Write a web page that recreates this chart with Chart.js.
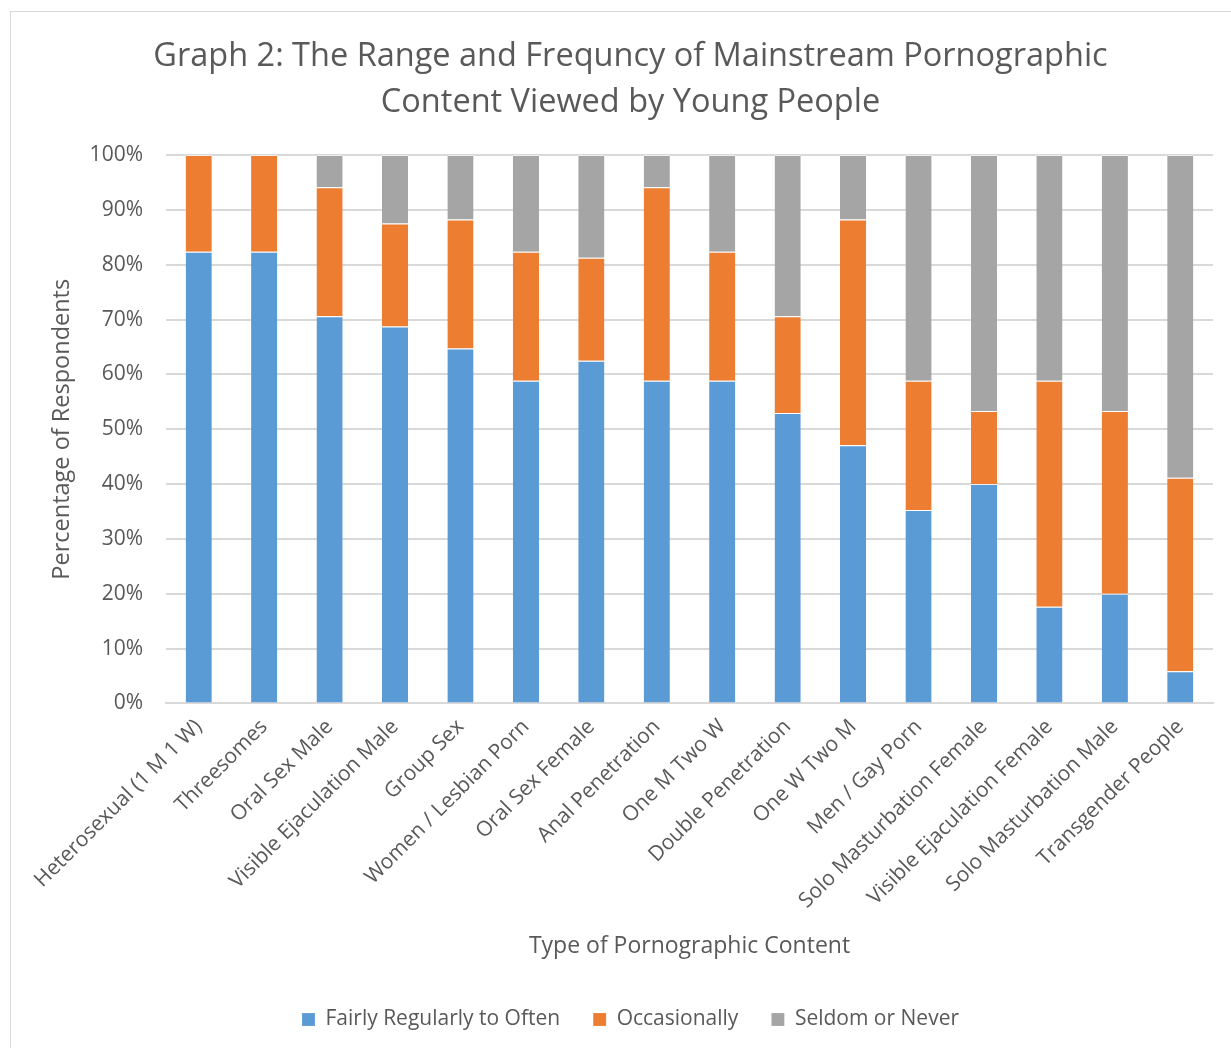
<!DOCTYPE html>
<html lang="en">
<head>
    <meta charset="UTF-8">
    <title>Graph 2</title>
    <script src="https://cdn.jsdelivr.net/npm/chart.js"></script>
    <style>
        * { margin: 0; padding: 0; box-sizing: border-box; }
        body { background: white; width: 1231px; height: 1048px; overflow: hidden; position: relative; }
        .frame {
            position: absolute; left: 10px; top: 11px; width: 1240px; height: 1060px;
            border: 1px solid #d9d9d9;
        }
        .chart-box { position: absolute; left: 0; top: 0; width: 1231px; height: 1048px; }
    </style>
</head>
<body>
    <div class="frame"></div>
    <div class="chart-box"><canvas id="chart" width="1231" height="1048"></canvas></div>

    <script>
        const categories = [
            'Heterosexual (1 M 1 W)', 'Threesomes', 'Oral Sex Male', 'Visible Ejaculation Male',
            'Group Sex', 'Women / Lesbian Porn', 'Oral Sex Female', 'Anal Penetration',
            'One M Two W', 'Double Penetration', 'One W Two M', 'Men / Gay Porn',
            'Solo Masturbation Female', 'Visible Ejaculation Female', 'Solo Masturbation Male', 'Transgender People'
        ];
        const regularly = [82.35, 82.35, 70.59, 68.75, 64.71, 58.82, 62.5, 58.82, 58.82, 52.94, 47.06, 35.29, 40, 17.65, 20, 5.88];
        const occasionally = [17.65, 17.65, 23.53, 18.75, 23.53, 23.53, 18.75, 35.29, 23.53, 17.65, 41.18, 23.53, 13.33, 41.18, 33.33, 35.29];
        const seldom = [0, 0, 5.88, 12.5, 11.76, 17.65, 18.75, 5.88, 17.65, 29.41, 11.76, 41.18, 46.67, 41.18, 46.67, 58.82];

        const font = "'Open Sans', sans-serif";
        const textGray = '#595959';

        Chart.defaults.font.family = font;
        Chart.defaults.color = textGray;

        const mk = (label, data, color) => ({
            label, data, backgroundColor: color,
            borderColor: 'rgba(255,255,255,0.6)', borderWidth: { top: 1 },
            barPercentage: 0.4, categoryPercentage: 1
        });

        new Chart(document.getElementById('chart'), {
            type: 'bar',
            data: {
                labels: categories,
                datasets: [
                    mk('Fairly Regularly to Often', regularly, '#5b9bd5'),
                    mk('Occasionally', occasionally, '#ed7d31'),
                    mk('Seldom or Never', seldom, '#a5a5a5')
                ]
            },
            options: {
                responsive: false,
                animation: false,
                layout: { padding: { left: 48, right: 18, top: 34, bottom: 8 } },
                plugins: {
                    title: {
                        display: true,
                        text: ['Graph 2: The Range and Frequncy of Mainstream Pornographic', 'Content Viewed by Young People'],
                        font: { size: 32.5, weight: 'normal', lineHeight: 1.4 },
                        color: textGray,
                        padding: { top: 0, bottom: 30 }
                    },
                    legend: {
                        position: 'bottom',
                        labels: {
                            font: { size: 21 },
                            color: textGray,
                            boxWidth: 13, boxHeight: 13,
                            padding: 33
                        }
                    },
                    tooltip: { enabled: false }
                },
                scales: {
                    x: {
                        stacked: true,
                        grid: { display: false },
                        border: { color: '#d9d9d9', width: 2 },
                        ticks: {
                            minRotation: 45, maxRotation: 45, autoSkip: false,
                            font: { size: 21 }, color: textGray
                        },
                        title: {
                            display: true, text: 'Type of Pornographic Content',
                            font: { size: 23 }, color: textGray,
                            padding: { top: 16, bottom: 16 }
                        }
                    },
                    y: {
                        stacked: true,
                        min: 0, max: 100,
                        // fixed axis width so the plot starts where the original's does
                        afterFit: s => { s.width = 118; },
                        ticks: {
                            stepSize: 10, font: { size: 21 }, color: textGray, padding: 23,
                            callback: v => v + '%'
                        },
                        grid: { color: '#d9d9d9', lineWidth: 2, drawTicks: false },
                        border: { display: false },
                        title: {
                            display: true, text: 'Percentage of Respondents',
                            font: { size: 23.5 }, color: textGray, padding: { top: 0, bottom: 14 }
                        }
                    }
                }
            }
        });
    </script>
</body>
</html>
